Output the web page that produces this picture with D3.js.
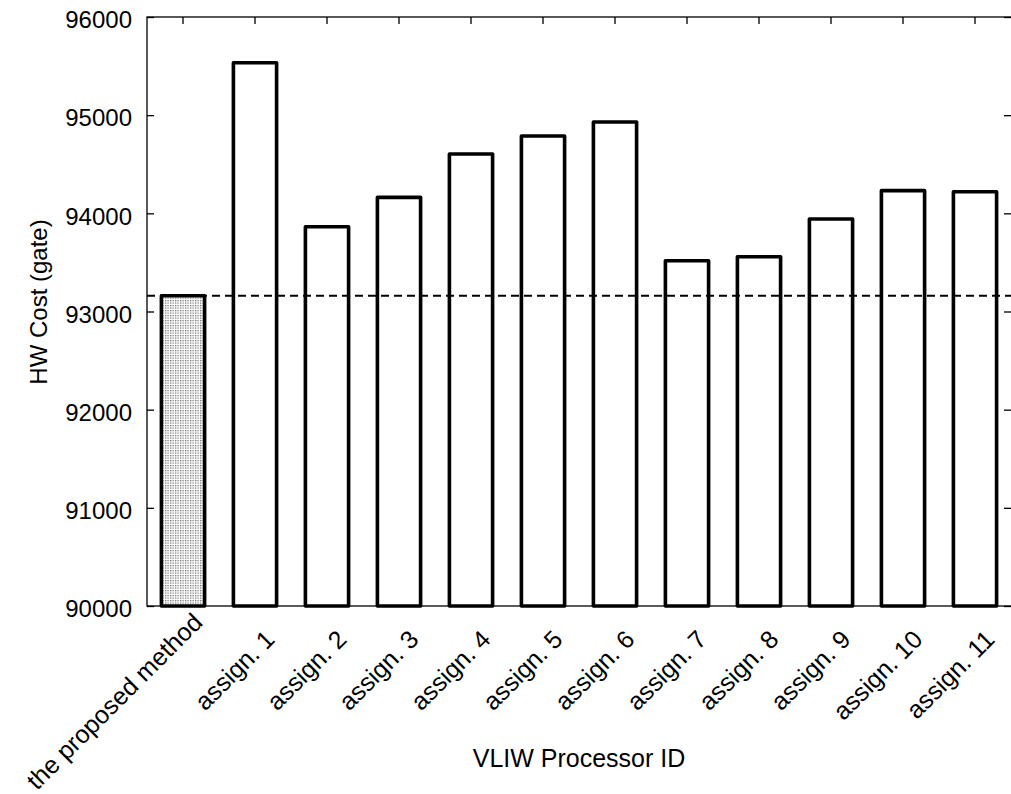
<!DOCTYPE html>
<html>
  <head>
    <meta charset="utf-8" />
    <title>HW Cost per VLIW Processor</title>
    <script src="https://d3js.org/d3.v7.min.js"></script>
    <style>
      body { margin: 0; background: #fff; }
      text { font-family: "Liberation Sans", Arial, sans-serif; fill: #000; }
    </style>
  </head>
  <body>
    <svg id="chart" width="1011" height="794"></svg>

    <script>
      // datos
      const categories = [
        "the proposed method",
        "assign. 1", "assign. 2", "assign. 3", "assign. 4", "assign. 5",
        "assign. 6", "assign. 7", "assign. 8", "assign. 9", "assign. 10", "assign. 11"
      ];
      const costs = [93160, 95534, 93864, 94163, 94604, 94788, 94930, 93517, 93558, 93942, 94231, 94220];
      const referenceCost = 93160;
      const yTicks = [90000, 91000, 92000, 93000, 94000, 95000, 96000];
      const yDomain = [90000, 96000];

      const width = 1011, height = 794;
      const plotLeft = 147, plotRight = 1011, plotTop = 17, plotBottom = 606;
      const fontSize = 24;

      const svg = d3.select("#chart");

      // patron punteado para la barra del metodo propuesto
      const pat = svg.append("defs").append("pattern")
        .attr("id", "dots")
        .attr("patternUnits", "userSpaceOnUse")
        .attr("width", 2.5)
        .attr("height", 2.5);
      pat.append("rect").attr("width", 2.5).attr("height", 2.5).attr("fill", "#fff");
      pat.append("rect").attr("width", 1.25).attr("height", 1.25).attr("fill", "#6e6e6e");

      // escalas
      const x = d3.scaleBand()
        .domain(categories)
        .range([plotLeft, plotRight])
        .paddingInner(0.4)
        .paddingOuter(0.2);
      const y = d3.scaleLinear().domain(yDomain).range([plotBottom, plotTop]);

      // marco
      svg.append("rect")
        .attr("x", plotLeft)
        .attr("y", plotTop)
        .attr("width", plotRight + 1 - plotLeft)
        .attr("height", plotBottom - plotTop)
        .attr("fill", "none")
        .attr("stroke", "#000")
        .attr("stroke-width", 1.3);

      // eje y izquierdo
      const yAxis = svg.append("g")
        .attr("transform", `translate(${plotLeft},0)`)
        .call(d3.axisLeft(y).tickValues(yTicks).tickFormat(d3.format("d"))
          .tickSizeInner(-7).tickSizeOuter(0).tickPadding(15));
      yAxis.select(".domain").remove();
      yAxis.selectAll("line").attr("stroke-width", 1.3);
      yAxis.selectAll("text")
        .attr("dy", "0.45em")
        .style("font-size", fontSize + "px")
        .style("font-family", "'Liberation Sans', Arial, sans-serif");

      // eje y derecho (solo marcas)
      const yAxisR = svg.append("g")
        .attr("transform", `translate(${plotRight},0)`)
        .call(d3.axisRight(y).tickValues(yTicks).tickFormat("")
          .tickSizeInner(-7).tickSizeOuter(0));
      yAxisR.select(".domain").remove();
      yAxisR.selectAll("line").attr("stroke-width", 1.3);

      // marcas superiores
      const xTop = svg.append("g")
        .attr("transform", `translate(0,${plotTop})`)
        .call(d3.axisTop(x).tickFormat("").tickSizeInner(-7).tickSizeOuter(0));
      xTop.select(".domain").remove();
      xTop.selectAll("line").attr("stroke-width", 1.3);

      // barras
      svg.append("g")
        .selectAll("rect")
        .data(categories)
        .enter()
        .append("rect")
        .attr("x", (d) => x(d))
        .attr("y", (d, i) => y(costs[i]))
        .attr("width", x.bandwidth())
        .attr("height", (d, i) => y(yDomain[0]) - y(costs[i]))
        .attr("fill", (d, i) => (i === 0 ? "url(#dots)" : "#fff"))
        .attr("stroke", "#000")
        .attr("stroke-width", 3.6)
        .attr("stroke-linejoin", "round");

      // linea de referencia discontinua
      svg.append("line")
        .attr("x1", plotLeft)
        .attr("x2", plotRight)
        .attr("y1", y(referenceCost))
        .attr("y2", y(referenceCost))
        .attr("stroke", "#000")
        .attr("stroke-width", 2)
        .attr("stroke-dasharray", "8,5");

      // etiquetas rotadas del eje x
      // se suben si el comienzo del texto se saldria por abajo
      const labelY = plotBottom + 35;
      const s45 = Math.SQRT1_2;
      svg.append("g")
        .selectAll("text")
        .data(categories)
        .enter()
        .append("text")
        .attr("text-anchor", "end")
        .style("font-size", "25px")
        .text((d) => d)
        .attr("transform", function (d) {
          const len = this.getComputedTextLength();
          const over = Math.max(0, labelY + len * s45 - (height - 3));
          return `translate(${x(d) + x.bandwidth() / 2 + 21},${labelY - over}) rotate(-45)`;
        });

      // titulos
      svg.append("text")
        .attr("x", 579)
        .attr("y", 767)
        .attr("text-anchor", "middle")
        .style("font-size", "25px")
        .text("VLIW Processor ID");

      svg.append("text")
        .attr("transform", "translate(47,302) rotate(-90)")
        .attr("text-anchor", "middle")
        .style("font-size", fontSize + "px")
        .text("HW Cost (gate)");
    </script>
  </body>
</html>
